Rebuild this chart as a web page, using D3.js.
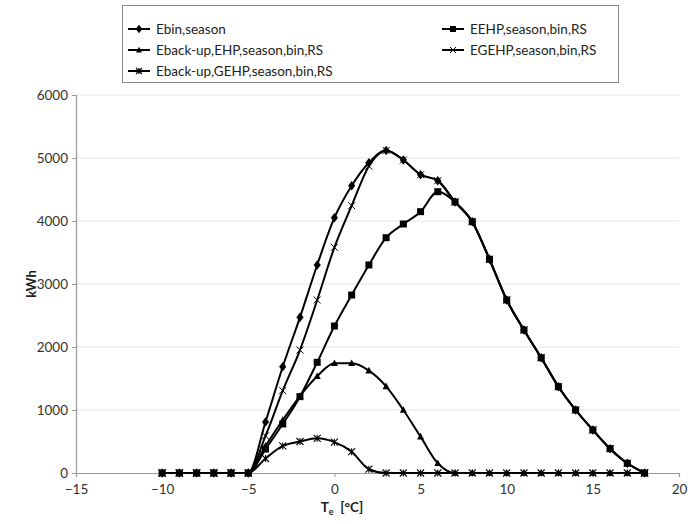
<!DOCTYPE html>
<html>
<head>
<meta charset="utf-8">
<script src="https://cdn.jsdelivr.net/npm/d3@7"></script>
<style>
  html, body { margin: 0; padding: 0; background: #fff; }
  svg { display: block; font-family: Lato, "Liberation Sans", sans-serif; }
</style>
</head>
<body>
<svg id="chart" width="700" height="524"></svg>
<script>
const temps = [-10,-9,-8,-7,-6,-5,-4,-3,-2,-1,0,1,2,3,4,5,6,7,8,9,10,11,12,13,14,15,16,17,18];
const ebin       = [0,0,0,0,0,0, 810,1687,2471,3302,4052,4560,4925,5120,4968,4735,4640,4302,3989,3392,2746,2270,1830,1370,1000,683,386,154,0];
const eehp       = [0,0,0,0,0,0, 380,778,1212,1757,2333,2825,3302,3735,3952,4148,4465,4302,3989,3392,2746,2270,1830,1370,1000,683,386,154,0];
const backupEhp  = [0,0,0,0,0,0, 430,841,1222,1535,1741,1741,1625,1375,1000,577,154,0,0,0,0,0,0,0,0,0,0,0,0];
const egehp      = [0,0,0,0,0,0, 590,1307,1952,2746,3582,4243,4870,5120,4968,4735,4640,4302,3989,3392,2746,2270,1830,1370,1000,683,386,154,0];
const backupGehp = [0,0,0,0,0,0, 230,430,500,550,490,338,60,0,0,0,0,0,0,0,0,0,0,0,0,0,0,0,0];
const seriesNames = ["Ebin,season","EEHP,season,bin,RS","Eback-up,EHP,season,bin,RS","EGEHP,season,bin,RS","Eback-up,GEHP,season,bin,RS"];
const seriesMarkers = ["diamond","square","triangle","x","asterisk"];
const seriesValues = [ebin, eehp, backupEhp, egehp, backupGehp];
const xTicks = [-15,-10,-5,0,5,10,15,20];
const yTicks = [0,1000,2000,3000,4000,5000,6000];

const svg = d3.select("#chart");
const pLeft = 76, pRight = 679, pTop = 95, pBottom = 473;
const x = d3.scaleLinear().domain([-15, 20]).range([pLeft, pRight]);
const y = d3.scaleLinear().domain([0, 6000]).range([pBottom, pTop]);

// gridlines
svg.append("g").selectAll("line").data(yTicks.filter(d => d > 0)).join("line")
  .attr("x1", pLeft).attr("x2", pRight)
  .attr("y1", d => y(d)).attr("y2", d => y(d))
  .attr("stroke", "#e4e4e4").attr("stroke-width", 1);

// axes
const yAxis = svg.append("g").attr("transform", `translate(${pLeft},0)`)
  .call(d3.axisLeft(y).tickValues(yTicks).tickSize(4).tickPadding(4).tickFormat(d3.format("d")));
const xAxis = svg.append("g").attr("transform", `translate(0,${pBottom})`)
  .call(d3.axisBottom(x).tickValues(xTicks).tickSize(4).tickPadding(7).tickFormat(d3.format("d")));
[yAxis, xAxis].forEach(g => {
  g.select(".domain").attr("stroke", "#9a9a9a").attr("stroke-width", 1.2);
  g.selectAll(".tick line").attr("stroke", "#9a9a9a");
  g.selectAll(".tick text").attr("fill", "#333").attr("font-size", 13.5)
    .attr("font-family", "Lato, 'Liberation Sans', sans-serif");
});

// axis titles
svg.append("text").attr("transform", "translate(36,284) rotate(-90)")
  .attr("text-anchor", "middle").attr("font-size", 13).attr("font-weight", "bold").attr("fill", "#222")
  .text("kWh");
const xt = svg.append("text").attr("x", 342).attr("y", 512).attr("text-anchor", "middle")
  .attr("font-size", 13.5).attr("font-weight", "bold").attr("fill", "#222")
  .attr("xml:space", "preserve");
xt.append("tspan").text("T");
xt.append("tspan").attr("font-size", 9).attr("dy", 3).text("e");
xt.append("tspan").attr("dy", -3).text("\u00a0\u00a0[°C]");

// marker drawing
function drawMarker(g, type, cx, cy, s) {
  if (type === "diamond") {
    g.append("path").attr("d", `M${cx},${cy-s*0.6}L${cx+s*0.45},${cy}L${cx},${cy+s*0.6}L${cx-s*0.45},${cy}Z`).attr("fill", "#000");
  } else if (type === "square") {
    g.append("rect").attr("x", cx - s/2).attr("y", cy - s/2).attr("width", s).attr("height", s).attr("fill", "#000");
  } else if (type === "triangle") {
    g.append("path").attr("d", `M${cx},${cy-s*0.55}L${cx+s*0.5},${cy+s*0.4}L${cx-s*0.5},${cy+s*0.4}Z`).attr("fill", "#000");
  } else if (type === "x") {
    const h = s/2;
    g.append("path").attr("d", `M${cx-h},${cy-h}L${cx+h},${cy+h}M${cx-h},${cy+h}L${cx+h},${cy-h}`)
      .attr("stroke", "#000").attr("stroke-width", 1).attr("fill", "none");
  } else if (type === "asterisk") {
    const h = s/2;
    g.append("path").attr("d", `M${cx-h},${cy-h}L${cx+h},${cy+h}M${cx-h},${cy+h}L${cx+h},${cy-h}M${cx},${cy-h}L${cx},${cy+h}`)
      .attr("stroke", "#000").attr("stroke-width", 1.1).attr("fill", "none");
  }
}
const markerSize = {diamond: 8, square: 7, triangle: 7, x: 7, asterisk: 7};

const line = d3.line().x((d, i) => x(temps[i])).y(d => y(d)).curve(d3.curveMonotoneX);

seriesValues.forEach((vals, si) => {
  const g = svg.append("g");
  g.append("path").datum(vals).attr("d", line)
    .attr("fill", "none").attr("stroke", "#000").attr("stroke-width", 2);
  vals.forEach((v, i) => drawMarker(g, seriesMarkers[si], x(temps[i]), y(v), markerSize[seriesMarkers[si]]));
});

// legend
const lg = svg.append("g");
lg.append("rect").attr("x", 122.5).attr("y", 5.5).attr("width", 496).attr("height", 77)
  .attr("fill", "#fff").attr("stroke", "#888").attr("stroke-width", 1);
const legendPos = [
  {x: 128, y: 29}, {x: 442, y: 29},
  {x: 128, y: 50}, {x: 442, y: 50},
  {x: 128, y: 71}
];
seriesNames.forEach((name, i) => {
  const p = legendPos[i];
  lg.append("line").attr("x1", p.x).attr("x2", p.x + 22).attr("y1", p.y).attr("y2", p.y)
    .attr("stroke", "#000").attr("stroke-width", 2);
  drawMarker(lg, seriesMarkers[i], p.x + 11, p.y, markerSize[seriesMarkers[i]] - 1);
  lg.append("text").attr("x", p.x + 28).attr("y", p.y).attr("dy", "0.35em")
    .attr("font-size", 13.5).attr("fill", "#222").text(name);
});
</script>
</body>
</html>
